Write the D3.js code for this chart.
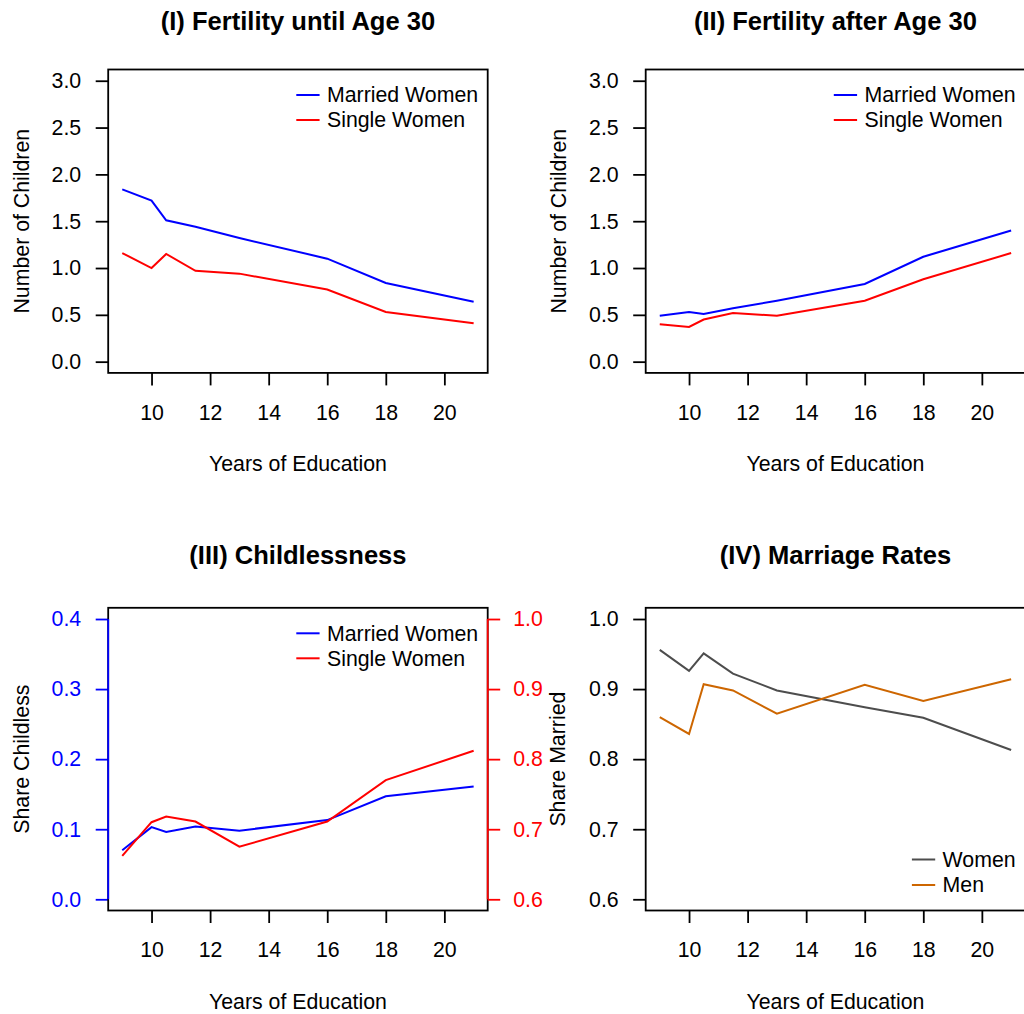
<!DOCTYPE html>
<html>
<head>
<meta charset="utf-8">
<script src="https://cdnjs.cloudflare.com/ajax/libs/d3/7.8.5/d3.min.js"></script>
<style>
body { margin: 0; background: #fff; }
svg { display: block; font-family: "Liberation Sans", Arial, Helvetica, sans-serif; }
</style>
</head>
<body>
<svg id="chart" width="1024" height="1014"></svg>
<script>

// --> DATA

var years = [9, 10, 10.5, 11.5, 13, 16, 18, 21];
var yearTicks = [10, 12, 14, 16, 18, 20];

// panel I
var until30Married = [1.84, 1.72, 1.51, 1.44, 1.32, 1.10, 0.84, 0.64];
var until30Single = [1.16, 1.00, 1.15, 0.97, 0.94, 0.77, 0.53, 0.41];

// panel II
var after30Married = [0.49, 0.53, 0.51, 0.57, 0.65, 0.83, 1.12, 1.40];
var after30Single = [0.40, 0.37, 0.45, 0.52, 0.49, 0.65, 0.88, 1.16];

// panel III (married on left axis, single on right axis)
var childlessMarried = [0.070, 0.103, 0.096, 0.104, 0.098, 0.113, 0.147, 0.161];
var childlessSingle = [0.662, 0.710, 0.718, 0.711, 0.675, 0.711, 0.770, 0.812];

// panel IV
var marriedWomen = [0.956, 0.926, 0.951, 0.922, 0.898, 0.874, 0.859, 0.813];
var marriedMen = [0.860, 0.836, 0.907, 0.898, 0.865, 0.906, 0.883, 0.914];

var childrenTicks = [0, 0.5, 1, 1.5, 2, 2.5, 3];
var childlessTicks = [0, 0.1, 0.2, 0.3, 0.4];
var shareTicks = [0.6, 0.7, 0.8, 0.9, 1.0];


var svg = d3.select("#chart");
var baseFont = 21.3;

// plot boxes
var cols = [{left: 108.2, right: 487.7}, {left: 645.7, right: 1025.2}];
var rows = [{top: 69.5, bottom: 372.9}, {top: 607.8, bottom: 910.5}];


// R style limits: 4% padding on each side
function padded(lo, hi)
{
    var d = (hi - lo) * 0.04;
    return [lo - d, hi + d];
}


function drawPanel(cfg)
{
    var c = cols[cfg.col], r = rows[cfg.row];
    var g = svg.append("g");

    var x = d3.scaleLinear().domain(padded(9, 21)).range([c.left, c.right]);
    var y = d3.scaleLinear().domain(padded(cfg.ylim[0], cfg.ylim[1])).range([r.bottom, r.top]);

    //x axis
    var xa = g.append("g")
        .attr("transform", "translate(0," + r.bottom + ")")
        .call(d3.axisBottom(x).tickValues(yearTicks).tickSize(12.5).tickSizeOuter(0).tickPadding(19.2));
    xa.select(".domain").remove();
    styleAxis(xa, "#000");

    //left y axis
    var ya = g.append("g")
        .attr("transform", "translate(" + c.left + ",0)")
        .call(d3.axisLeft(y).tickValues(cfg.yticks).tickSize(12.5).tickSizeOuter(0).tickPadding(14.5)
            .tickFormat(d3.format(".1f")));
    ya.select(".domain").remove();
    styleAxis(ya, cfg.leftColor || "#000");

    //box
    g.append("rect")
        .attr("x", c.left).attr("y", r.top)
        .attr("width", c.right - c.left).attr("height", r.bottom - r.top)
        .style("fill", "none").style("stroke", "#000").style("stroke-width", 1.8);

    if (cfg.leftColor)
    {
        g.append("line")
            .attr("x1", c.left).attr("x2", c.left)
            .attr("y1", y(cfg.yticks[0])).attr("y2", y(cfg.yticks[cfg.yticks.length - 1]))
            .style("stroke", cfg.leftColor).style("stroke-width", 1.8);
    }

    //second axis on the right
    var y2 = null;
    if (cfg.ylim2)
    {
        y2 = d3.scaleLinear().domain(padded(cfg.ylim2[0], cfg.ylim2[1])).range([r.bottom, r.top]);
        var ra = g.append("g")
            .attr("transform", "translate(" + c.right + ",0)")
            .call(d3.axisRight(y2).tickValues(cfg.yticks2).tickSize(12.5).tickSizeOuter(0).tickPadding(13)
                .tickFormat(d3.format(".1f")));
        ra.select(".domain").remove();
        styleAxis(ra, cfg.rightColor);
        g.append("line")
            .attr("x1", c.right).attr("x2", c.right)
            .attr("y1", y2(cfg.yticks2[0])).attr("y2", y2(cfg.yticks2[cfg.yticks2.length - 1]))
            .style("stroke", cfg.rightColor).style("stroke-width", 1.8);

        g.append("text")
            .attr("transform", "translate(" + (c.right + 77.5) + "," + ((r.top + r.bottom) / 2) + ") rotate(-90)")
            .attr("text-anchor", "middle")
            .style("font-size", baseFont + "px")
            .text(cfg.ylab2);
    }

    //series
    cfg.series.forEach(function(s) {
        var sy = s.right ? y2 : y;
        var line = d3.line()
            .x(function(d, i) { return x(years[i]); })
            .y(function(d) { return sy(d); });
        g.append("path")
            .datum(s.values)
            .attr("d", line)
            .style("fill", "none")
            .style("stroke", s.color)
            .style("stroke-width", 2);
    });

    //title
    g.append("text")
        .attr("x", (c.left + c.right) / 2)
        .attr("y", r.top - cfg.titleGap)
        .attr("text-anchor", "middle")
        .style("font-size", (baseFont * 1.2) + "px")
        .style("font-weight", "bold")
        .text(cfg.title);

    //axis labels
    g.append("text")
        .attr("x", (c.left + c.right) / 2)
        .attr("y", r.bottom + 98.3)
        .attr("text-anchor", "middle")
        .style("font-size", baseFont + "px")
        .text("Years of Education");

    if (cfg.ylab)
    {
        g.append("text")
            .attr("transform", "translate(" + (c.left - 79.5) + "," + ((r.top + r.bottom) / 2) + ") rotate(-90)")
            .attr("text-anchor", "middle")
            .style("font-size", baseFont + "px")
            .text(cfg.ylab);
    }

    //legend, no box
    var leg = g.append("g");
    var labels = leg.selectAll("text")
        .data(cfg.series)
        .enter().append("text")
        .style("font-size", baseFont + "px")
        .attr("dy", "0.35em")
        .text(function(d) { return d.name; });

    var maxW = 0;
    labels.each(function() { maxW = Math.max(maxW, this.getComputedTextLength()); });
    var tx = c.right - 9.6 - maxW;
    var n = cfg.series.length;
    var rowY = function(i) {
        return cfg.legendBottom ? r.bottom - 25.5 * (n - i) : r.top + 25.5 + 25 * i;
    };

    labels.attr("x", tx).attr("y", function(d, i) { return rowY(i); });

    leg.selectAll("line")
        .data(cfg.series)
        .enter().append("line")
        .attr("x1", tx - 30.7).attr("x2", tx - 7.4)
        .attr("y1", function(d, i) { return rowY(i); })
        .attr("y2", function(d, i) { return rowY(i); })
        .style("stroke", function(d) { return d.color; })
        .style("stroke-width", 2);
}


function styleAxis(a, color)
{
    a.attr("font-family", null).attr("font-size", null);
    a.selectAll(".tick line").style("stroke", color).style("stroke-width", 1.8);
    a.selectAll(".tick text").style("fill", color).style("font-size", baseFont + "px");
}


drawPanel({
    col: 0, row: 0, titleGap: 40,
    title: "(I) Fertility until Age 30",
    ylab: "Number of Children",
    ylim: [0, 3], yticks: childrenTicks,
    series: [
        {name: "Married Women", values: until30Married, color: "#0000FF"},
        {name: "Single Women", values: until30Single, color: "#FF0000"}
    ]
});

drawPanel({
    col: 1, row: 0, titleGap: 40,
    title: "(II) Fertility after Age 30",
    ylab: "Number of Children",
    ylim: [0, 3], yticks: childrenTicks,
    series: [
        {name: "Married Women", values: after30Married, color: "#0000FF"},
        {name: "Single Women", values: after30Single, color: "#FF0000"}
    ]
});

drawPanel({
    col: 0, row: 1, titleGap: 43.5,
    title: "(III) Childlessness",
    ylab: "Share Childless",
    ylim: [0, 0.4], yticks: childlessTicks, leftColor: "#0000FF",
    ylim2: [0.6, 1.0], yticks2: shareTicks, rightColor: "#FF0000", ylab2: "Share Married",
    series: [
        {name: "Married Women", values: childlessMarried, color: "#0000FF"},
        {name: "Single Women", values: childlessSingle, color: "#FF0000", right: true}
    ]
});

drawPanel({
    col: 1, row: 1, titleGap: 43.5,
    title: "(IV) Marriage Rates",
    ylim: [0.6, 1.0], yticks: shareTicks,
    legendBottom: true,
    series: [
        {name: "Women", values: marriedWomen, color: "#4D4D4D"},
        {name: "Men", values: marriedMen, color: "#CD6600"}
    ]
});

</script>
</body>
</html>
